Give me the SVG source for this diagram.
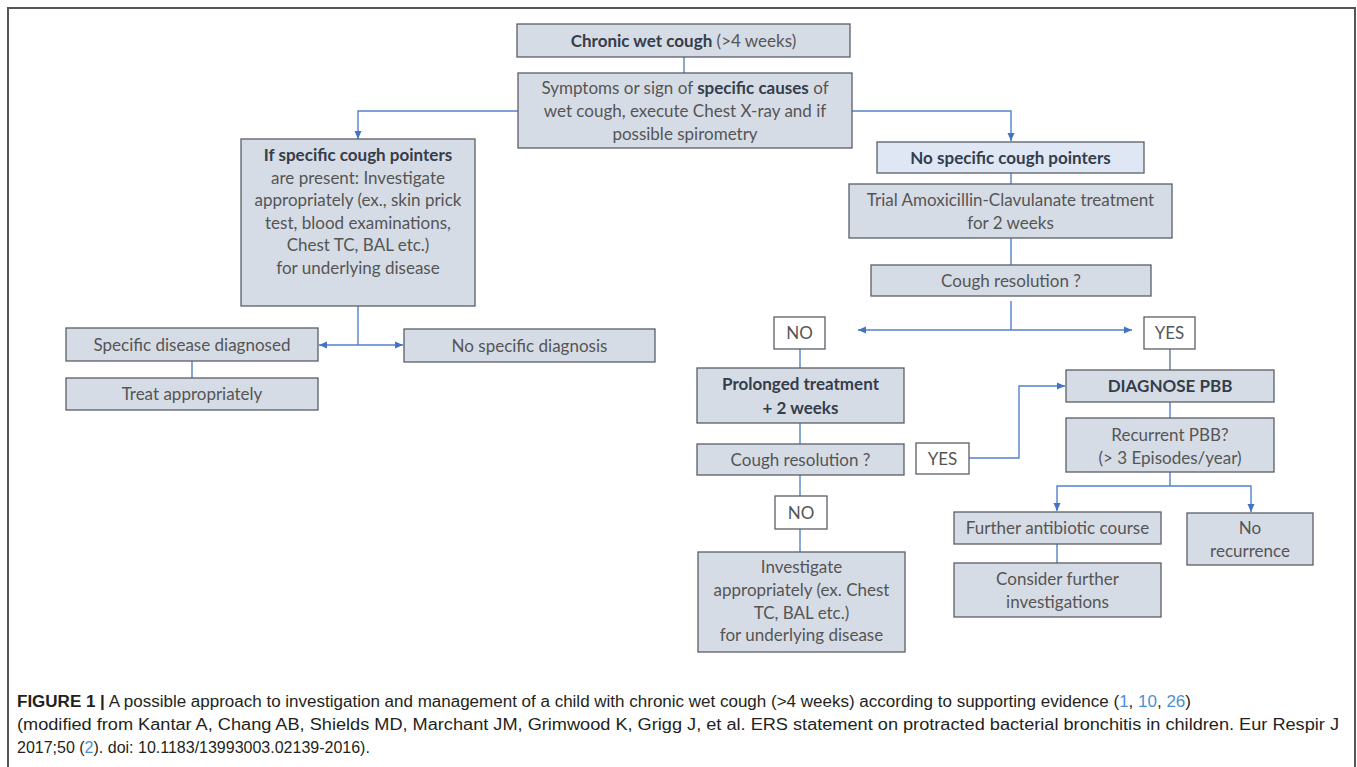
<svg xmlns="http://www.w3.org/2000/svg" width="1357" height="767" viewBox="0 0 1357 767">
<defs>
<style>
.box{fill:#d6dce5;stroke:#5a5e66;stroke-width:1.3}
.lbox{fill:#dfe7f4;stroke:#5a5e66;stroke-width:1.3}
.wbox{fill:#ffffff;stroke:#5a5e66;stroke-width:1.3}
.t{font-family:Lato,"Open Sans","Liberation Sans",sans-serif;font-size:17px;fill:#555555;text-anchor:middle}
.b{font-weight:bold;fill:#353d4a}
.c{fill:none;stroke:#5581c9;stroke-width:1.4}
.ca{fill:none;stroke:#5581c9;stroke-width:1.4;marker-end:url(#ah)}
.cap{font-family:"Liberation Sans",Arial,sans-serif;font-size:16px;fill:#231f20}
.ref{fill:#4a90d9}
</style>
<marker id="ah" markerUnits="userSpaceOnUse" markerWidth="9" markerHeight="8" refX="8" refY="4" orient="auto">
<path d="M0,0.5 L8,4 L0,7.5 z" fill="#4472c4"/>
</marker>
</defs>
<rect width="1357" height="767" fill="#ffffff"/>
<path d="M8,770 V8 H1355 V770" fill="none" stroke="#555555" stroke-width="2"/>

<g id="connectors">
<path class="c" d="M684,57 V73"/>
<path class="ca" d="M518,111 H358 V139"/>
<path class="ca" d="M852,111 H1011 V141"/>
<path class="c" d="M358,306 V345"/>
<path class="ca" d="M358,345 H319"/>
<path class="ca" d="M358,345 H403"/>
<path class="c" d="M192,361 V378"/>
<path class="c" d="M1011,173 V184"/>
<path class="c" d="M1011,238 V265"/>
<path class="c" d="M1011,301 V330"/>
<path class="ca" d="M1011,330 H858"/>
<path class="ca" d="M1011,330 H1132"/>
<path class="c" d="M1170,349 V370" style="stroke:#6f7a8a"/>
<path class="c" d="M800,349 V368"/>
<path class="c" d="M800,423 V444"/>
<path class="c" d="M800,475 V496"/>
<path class="c" d="M800,529 V552"/>
<path class="ca" d="M969,458 H1019 V386 H1065"/>
<path class="c" d="M1170,402 V418"/>
<path class="c" d="M1170,472 V486"/>
<path class="ca" d="M1170,486 H1057 V511"/>
<path class="ca" d="M1170,486 H1251 V512"/>
<path class="c" d="M1057,544 V563"/>
</g>

<g id="n1"><rect class="box" x="517" y="24" width="333" height="33"/>
<text class="t" x="683.5" y="46.5"><tspan class="b">Chronic wet cough</tspan> (&gt;4 weeks)</text></g>

<g id="n2"><rect class="box" x="518" y="73" width="334" height="75"/>
<text class="t" x="685" y="94">Symptoms or sign of <tspan class="b">specific causes</tspan> of</text>
<text class="t" x="685" y="117">wet cough, execute Chest X-ray and if</text>
<text class="t" x="685" y="140">possible spirometry</text></g>

<g id="n3"><rect class="box" x="241" y="139" width="234" height="167"/>
<text class="t" x="358" y="161"><tspan class="b">If specific cough pointers</tspan></text>
<text class="t" x="358" y="183.5">are present: Investigate</text>
<text class="t" x="358" y="206">appropriately (ex., skin prick</text>
<text class="t" x="358" y="228.5">test, blood examinations,</text>
<text class="t" x="358" y="251">Chest TC, BAL etc.)</text>
<text class="t" x="358" y="273.5">for underlying disease</text></g>

<g id="n4"><rect class="box" x="66" y="328" width="252" height="33"/>
<text class="t" x="192" y="350.5">Specific disease diagnosed</text></g>

<g id="n5"><rect class="box" x="404" y="329" width="251" height="33"/>
<text class="t" x="529.5" y="351.5">No specific diagnosis</text></g>

<g id="n6"><rect class="box" x="66" y="378" width="252" height="32"/>
<text class="t" x="192" y="400">Treat appropriately</text></g>

<g id="n7"><rect class="lbox" x="877" y="142" width="267" height="31"/>
<text class="t b" x="1010.5" y="163.5">No specific cough pointers</text></g>

<g id="n8"><rect class="box" x="849" y="184" width="323" height="54"/>
<text class="t" x="1010.5" y="205.5">Trial Amoxicillin-Clavulanate treatment</text>
<text class="t" x="1010.5" y="228.5">for 2 weeks</text></g>

<g id="n9"><rect class="box" x="871" y="265" width="280" height="31"/>
<text class="t" x="1011" y="286.5">Cough resolution ?</text></g>

<g id="n10"><rect class="wbox" x="774" y="317" width="51" height="32"/>
<text class="t" x="799.5" y="339">NO</text></g>

<g id="n11"><rect class="wbox" x="1144" y="317" width="51" height="32"/>
<text class="t" x="1169.5" y="339">YES</text></g>

<g id="n12"><rect class="box" x="697" y="368" width="207" height="55"/>
<text class="t b" x="800.5" y="390">Prolonged treatment</text>
<text class="t b" x="800.5" y="414">+ 2 weeks</text></g>

<g id="n13"><rect class="box" x="697" y="444" width="207" height="31"/>
<text class="t" x="800.5" y="465.5">Cough resolution ?</text></g>

<g id="n14"><rect class="wbox" x="775" y="496" width="52" height="33"/>
<text class="t" x="801" y="518.5">NO</text></g>

<g id="n15"><rect class="box" x="698" y="552" width="207" height="100"/>
<text class="t" x="801.5" y="573">Investigate</text>
<text class="t" x="801.5" y="596">appropriately (ex. Chest</text>
<text class="t" x="801.5" y="618.5">TC, BAL etc.)</text>
<text class="t" x="801.5" y="641">for underlying disease</text></g>

<g id="n16"><rect class="wbox" x="916" y="443" width="53" height="31"/>
<text class="t" x="942.5" y="464.5">YES</text></g>

<g id="n17"><rect class="box" x="1066" y="370" width="208" height="32"/>
<text class="t b" x="1170" y="392">DIAGNOSE PBB</text></g>

<g id="n18"><rect class="box" x="1066" y="418" width="208" height="54"/>
<text class="t" x="1170" y="441">Recurrent PBB?</text>
<text class="t" x="1170" y="464">(&gt; 3 Episodes/year)</text></g>

<g id="n19"><rect class="box" x="954" y="512" width="207" height="32"/>
<text class="t" x="1057.5" y="534">Further antibiotic course</text></g>

<g id="n20"><rect class="box" x="954" y="563" width="207" height="54"/>
<text class="t" x="1057.5" y="585">Consider further</text>
<text class="t" x="1057.5" y="607.5">investigations</text></g>

<g id="n21"><rect class="box" x="1187" y="513" width="126" height="52"/>
<text class="t" x="1250" y="534">No</text>
<text class="t" x="1250" y="556.5">recurrence</text></g>

<g id="caption">
<text class="cap" x="17" y="707" textLength="1174" lengthAdjust="spacingAndGlyphs"><tspan font-weight="bold">FIGURE 1 |</tspan> A possible approach to investigation and management of a child with chronic wet cough (&gt;4 weeks) according to supporting evidence (<tspan class="ref">1</tspan>, <tspan class="ref">10</tspan>, <tspan class="ref">26</tspan>)</text>
<text class="cap" x="17" y="730" textLength="1322" lengthAdjust="spacingAndGlyphs">(modified from Kantar A, Chang AB, Shields MD, Marchant JM, Grimwood K, Grigg J, et al. ERS statement on protracted bacterial bronchitis in children. Eur Respir J</text>
<text class="cap" x="17" y="753">2017;50 (<tspan class="ref">2</tspan>). doi: 10.1183/13993003.02139-2016).</text>
</g>
</svg>
